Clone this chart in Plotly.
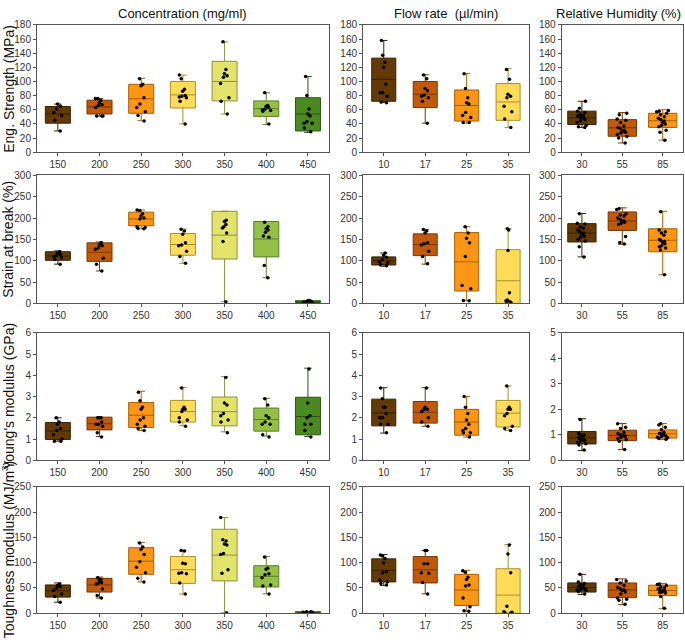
import plotly.graph_objects as go

# categories per column
conc = ["150", "200", "250", "300", "350", "400", "450"]
flow = ["10", "17", "25", "35"]
hum = ["30", "55", "85"]

conc_colors = ["#633A05", "#C0590A", "#FD9515", "#FEDC5A", "#E1E36A", "#95C048", "#4A8A21"]
conc_lines = ["#3A2000", "#7A3600", "#A85E00", "#A8902A", "#8E9040", "#5E7E2A", "#2C5412"]

# ---- Eng. Strength (MPa) ----
str_conc_pts = [
    [68, 65, 61, 56, 52, 45, 30],
    [76, 76, 73, 70, 67, 66, 63, 51, 51, 51],
    [104, 96, 94, 77, 68, 63, 57, 52, 44],
    [109, 104, 89, 86, 80, 79, 78, 77, 72, 40],
    [156, 117, 111, 108, 106, 97, 77, 72, 54],
    [84, 66, 65, 63, 61, 60, 59, 58, 40],
    [107, 80, 61, 54, 51, 43, 41, 41, 34, 29],
]
str_conc_q1 = [41, 54, 55, 62.5, 72.5, 50.5, 30]
str_conc_med = [54, 64, 75.5, 81, 100, 61.5, 54]
str_conc_q3 = [64.5, 73.5, 96, 100, 128.5, 72.5, 77]
str_conc_lo = [30, 51, 44.5, 40, 54, 39, 28]
str_conc_hi = [68, 76, 104.5, 109, 156, 84, 107]

str_flow_pts = [
    [158, 137, 127, 120, 96, 84, 84, 79, 71, 70],
    [109, 104, 90, 87, 81, 79, 77, 72, 41],
    [111, 90, 77, 70, 68, 56, 52, 49, 42, 42],
    [117, 103, 82, 79, 77, 65, 57, 47, 35],
]
str_flow_q1 = [72, 63, 44, 45]
str_flow_med = [103, 82, 66, 71]
str_flow_q3 = [133, 100, 88, 97]
str_flow_lo = [70, 41, 41, 35]
str_flow_hi = [158, 109.5, 111, 118]

str_hum_pts = [
    [72, 62, 58, 56, 54, 52, 51, 50, 49, 48, 46, 44, 42, 38, 36, 35],
    [55, 53, 47, 45, 42, 37, 35, 33, 31, 29, 28, 27, 25, 22, 20, 13],
    [59, 58, 57, 55, 53, 50, 48, 46, 44, 42, 40, 38, 36, 31, 28, 17],
]
str_hum_q1 = [39, 22.5, 35]
str_hum_med = [48.5, 34.5, 44.5]
str_hum_q3 = [58, 46, 55]
str_hum_lo = [35, 13, 17]
str_hum_hi = [72, 56, 60]

# ---- Strain at break (%) ----
strain_conc_pts = [
    [121, 118, 115, 113, 110, 107, 103, 92],
    [142, 137, 135, 130, 127, 106, 92, 76],
    [219, 218, 210, 205, 200, 198, 180, 178, 176, 175],
    [174, 170, 162, 142, 137, 135, 122, 110, 94],
    [195, 192, 185, 180, 177, 165, 145, 4],
    [190, 180, 175, 172, 167, 158, 155, 89, 60],
    [7, 6, 5, 4, 3, 3, 2, 2],
]
strain_conc_q1 = [101, 98.5, 182, 113, 104, 109, 2]
strain_conc_med = [111, 120, 198, 138, 160, 151, 4]
strain_conc_q3 = [121, 142, 214, 164, 216, 192, 6]
strain_conc_lo = [92, 76, 175, 94, 4, 60, 2]
strain_conc_hi = [123, 144, 219, 174.5, 216, 192, 7]

strain_flow_pts = [
    [118, 113, 108, 103, 98, 95, 91, 88],
    [173, 170, 165, 142, 140, 137, 122, 110, 93],
    [180, 165, 153, 142, 110, 42, 34, 7, 6],
    [175, 172, 124, 25, 8, 6, 4, 3, 2],
]
strain_flow_q1 = [90, 112, 29, 0]
strain_flow_med = [100, 138, 97.5, 53]
strain_flow_q3 = [109, 163, 166, 126]
strain_flow_lo = [87, 92, 6, 0]
strain_flow_hi = [118, 173, 180, 175]

strain_hum_pts = [
    [210, 188, 186, 180, 176, 172, 168, 165, 162, 158, 155, 150, 146, 133, 109],
    [222, 220, 210, 207, 205, 200, 197, 194, 192, 190, 188, 185, 157, 143, 139],
    [215, 172, 168, 165, 160, 150, 148, 145, 143, 140, 135, 133, 130, 125, 67],
]
strain_hum_q1 = [144, 171, 121]
strain_hum_med = [165, 193, 148]
strain_hum_q3 = [187, 214.5, 175]
strain_hum_lo = [109, 138.5, 67]
strain_hum_hi = [211, 224, 216]

# ---- Young's modulus (GPa) ----
ym_conc_pts = [
    [2.0, 1.8, 1.7, 1.5, 1.4, 1.2, 1.0, 0.9, 0.9],
    [2.0, 2.0, 2.0, 1.8, 1.7, 1.7, 1.6, 1.3, 1.1],
    [3.2, 2.8, 2.5, 2.4, 2.0, 1.9, 1.7, 1.6, 1.5, 1.4],
    [3.4, 2.5, 2.4, 2.4, 2.3, 2.0, 1.9, 1.8, 1.6],
    [3.9, 2.7, 2.6, 2.2, 2.1, 1.9, 1.8, 1.3],
    [2.9, 2.6, 2.1, 2.0, 1.8, 1.7, 1.7, 1.2, 1.1],
    [4.3, 2.7, 2.1, 2.0, 1.7, 1.7, 1.4, 1.1],
]
ym_conc_q1 = [0.98, 1.43, 1.54, 1.8, 1.62, 1.37, 1.2]
ym_conc_med = [1.38, 1.72, 2.12, 2.3, 2.29, 1.92, 2.06]
ym_conc_q3 = [1.78, 2.03, 2.72, 2.82, 2.98, 2.46, 2.97]
ym_conc_lo = [0.9, 1.12, 1.4, 1.63, 1.34, 1.14, 1.12]
ym_conc_hi = [2.0, 2.0, 3.25, 3.43, 3.94, 2.92, 4.34]

ym_flow_pts = [
    [3.4, 2.9, 2.5, 2.5, 2.2, 2.0, 2.0, 1.7, 1.7, 1.3],
    [3.4, 2.5, 2.4, 2.4, 2.3, 2.0, 1.8, 1.6],
    [3.0, 2.5, 2.2, 1.9, 1.7, 1.5, 1.4, 1.3, 1.3, 1.1],
    [3.5, 2.5, 2.4, 2.4, 2.2, 2.1, 1.6, 1.5, 1.4],
]
ym_flow_q1 = [1.62, 1.75, 1.18, 1.57]
ym_flow_med = [2.23, 2.26, 1.8, 2.22]
ym_flow_q3 = [2.88, 2.77, 2.4, 2.82]
ym_flow_lo = [1.28, 1.6, 1.09, 1.4]
ym_flow_hi = [3.42, 3.42, 3.0, 3.5]

ym_hum_pts = [
    [1.6, 1.05, 1.0, 1.0, 0.95, 0.9, 0.85, 0.8, 0.8, 0.78, 0.75, 0.7, 0.65, 0.6, 0.4],
    [1.43, 1.3, 1.25, 1.1, 1.05, 1.0, 0.98, 0.95, 0.93, 0.9, 0.85, 0.8, 0.75, 0.42],
    [1.43, 1.38, 1.3, 1.2, 1.1, 1.05, 1.03, 1.0, 0.98, 0.95, 0.92, 0.9, 0.88, 0.85, 0.82],
]
ym_hum_q1 = [0.64, 0.77, 0.87]
ym_hum_med = [0.88, 0.97, 1.04]
ym_hum_q3 = [1.13, 1.18, 1.19]
ym_hum_lo = [0.38, 0.42, 0.81]
ym_hum_hi = [1.63, 1.44, 1.44]

# ---- Toughness modulus (MJ/m3) ----
tm_conc_pts = [
    [58, 55, 53, 50, 45, 38, 33, 22],
    [70, 67, 65, 61, 60, 58, 48, 35, 30],
    [139, 131, 126, 116, 102, 91, 80, 69, 62],
    [124, 123, 99, 98, 80, 79, 78, 60, 38],
    [189, 145, 143, 137, 135, 118, 116, 86, 79, 1],
    [111, 89, 87, 78, 76, 70, 56, 54, 38],
    [3, 3, 2, 2, 1, 1],
]
tm_conc_q1 = [32, 42, 77, 59, 64, 52, 0.5]
tm_conc_med = [44.5, 56, 103, 86, 115, 73, 2]
tm_conc_q3 = [56, 69, 129.5, 112, 166, 94, 3]
tm_conc_lo = [22, 30, 62, 38, 1, 38.5, 0]
tm_conc_hi = [60, 71.5, 140, 124, 189, 112, 3.5]

tm_flow_pts = [
    [115, 113, 108, 100, 82, 80, 66, 62, 59, 56],
    [124, 124, 98, 98, 80, 79, 61, 38],
    [84, 81, 71, 67, 56, 54, 30, 13, 5, 4],
    [135, 117, 80, 14, 3, 2, 1, 1],
]
tm_flow_q1 = [62, 60, 15.5, 0]
tm_flow_med = [85, 86, 46, 36]
tm_flow_q3 = [107.5, 112, 77, 88]
tm_flow_lo = [55, 38.5, 4, 0]
tm_flow_hi = [116, 124, 85, 136]

tm_hum_pts = [
    [77, 62, 59, 57, 55, 53, 52, 50, 49, 48, 47, 46, 45, 43, 38],
    [67, 64, 60, 55, 51, 48, 46, 45, 42, 38, 30, 28, 26, 18],
    [58, 57, 55, 52, 50, 48, 46, 45, 44, 43, 42, 41, 40, 33, 10],
]
tm_hum_q1 = [42, 31, 35]
tm_hum_med = [51, 46, 45]
tm_hum_q3 = [60, 60, 55.5]
tm_hum_lo = [37, 17, 9]
tm_hum_hi = [77, 68, 59]

rows = [
    [(str_conc_pts, str_conc_q1, str_conc_med, str_conc_q3, str_conc_lo, str_conc_hi),
     (str_flow_pts, str_flow_q1, str_flow_med, str_flow_q3, str_flow_lo, str_flow_hi),
     (str_hum_pts, str_hum_q1, str_hum_med, str_hum_q3, str_hum_lo, str_hum_hi)],
    [(strain_conc_pts, strain_conc_q1, strain_conc_med, strain_conc_q3, strain_conc_lo, strain_conc_hi),
     (strain_flow_pts, strain_flow_q1, strain_flow_med, strain_flow_q3, strain_flow_lo, strain_flow_hi),
     (strain_hum_pts, strain_hum_q1, strain_hum_med, strain_hum_q3, strain_hum_lo, strain_hum_hi)],
    [(ym_conc_pts, ym_conc_q1, ym_conc_med, ym_conc_q3, ym_conc_lo, ym_conc_hi),
     (ym_flow_pts, ym_flow_q1, ym_flow_med, ym_flow_q3, ym_flow_lo, ym_flow_hi),
     (ym_hum_pts, ym_hum_q1, ym_hum_med, ym_hum_q3, ym_hum_lo, ym_hum_hi)],
    [(tm_conc_pts, tm_conc_q1, tm_conc_med, tm_conc_q3, tm_conc_lo, tm_conc_hi),
     (tm_flow_pts, tm_flow_q1, tm_flow_med, tm_flow_q3, tm_flow_lo, tm_flow_hi),
     (tm_hum_pts, tm_hum_q1, tm_hum_med, tm_hum_q3, tm_hum_lo, tm_hum_hi)],
]
col_cats = [conc, flow, hum]
col_titles = ["Concentration (mg/ml)", "Flow rate  (µl/min)", "Relative Humidity (%)"]
row_titles = ["Eng. Strength (MPa)", "Strain at break (%)", "Young's modulus (GPa)",
              "Toughness modulus (MJ/m<sup>3</sup>)"]
row_ranges = [[0, 180], [0, 300], [0, 6], [0, 250]]
row_dticks = [20, 50, 1, 50]
hum_range_ym = [0, 5]

# layout domains (paper fractions)
col_dom = [[0.054, 0.480], [0.530, 0.772], [0.820, 0.997]]
row_dom = [[0.768, 0.970], [0.528, 0.731], [0.279, 0.481], [0.036, 0.237]]
col_widths = [0.6, 0.58, 0.7]
col_title_x = [0.267, 0.651, 0.903]

fig = go.Figure()
layout = {}
n = 0
for r in range(4):
    for c in range(3):
        n += 1
        xa = "x" if n == 1 else "x%d" % n
        ya = "y" if n == 1 else "y%d" % n
        pts, q1, med, q3, lo, hi = rows[r][c]
        cats = col_cats[c]
        for i, cat in enumerate(cats):
            fig.add_trace(go.Box(
                x=[cat], q1=[q1[i]], median=[med[i]], q3=[q3[i]],
                lowerfence=[lo[i]], upperfence=[hi[i]],
                fillcolor=conc_colors[i], line=dict(color=conc_lines[i], width=1),
                width=col_widths[c], whiskerwidth=0.3, boxpoints=False,
                xaxis=xa, yaxis=ya, showlegend=False,
            ))
            fig.add_trace(go.Box(
                x=[cat] * len(pts[i]), y=pts[i],
                boxpoints="all", jitter=0.45, pointpos=0,
                fillcolor="rgba(0,0,0,0)", line=dict(color="rgba(0,0,0,0)", width=0),
                marker=dict(color="black", size=3.5),
                width=col_widths[c], xaxis=xa, yaxis=ya, showlegend=False,
            ))
        yr = row_ranges[r]
        dt = row_dticks[r]
        if r == 2 and c == 2:
            yr = hum_range_ym
        layout["xaxis" if n == 1 else "xaxis%d" % n] = dict(
            domain=col_dom[c], anchor=ya, type="category",
            categoryorder="array", categoryarray=cats,
            range=[-0.5, len(cats) - 0.5],
            showline=True, linecolor="#555", linewidth=1, mirror=True,
            ticks="outside", ticklen=3, tickcolor="#555",
            tickfont=dict(size=10, color="#333"), showgrid=False,
        )
        layout["yaxis" if n == 1 else "yaxis%d" % n] = dict(
            domain=row_dom[r], anchor=xa, range=yr, dtick=dt,
            showline=True, linecolor="#555", linewidth=1, mirror=True,
            ticks="outside", ticklen=3, tickcolor="#555",
            tickfont=dict(size=10, color="#333"), showgrid=False, zeroline=False,
        )

annotations = []
for c in range(3):
    annotations.append(dict(
        text=col_titles[c], x=col_title_x[c], y=0.988, xref="paper", yref="paper",
        showarrow=False, font=dict(size=13, color="#111"), xanchor="center", yanchor="middle",
    ))
for r in range(4):
    annotations.append(dict(
        text=row_titles[r], x=0.012, y=sum(row_dom[r]) / 2, xref="paper", yref="paper",
        showarrow=False, textangle=-90, font=dict(size=14, color="#111"),
        xanchor="center", yanchor="middle",
    ))

fig.update_layout(
    width=685, height=642,
    margin=dict(l=0, r=0, t=0, b=0),
    plot_bgcolor="white", paper_bgcolor="white",
    font=dict(family="Liberation Sans, Arial, sans-serif"),
    boxmode="overlay", showlegend=False,
    annotations=annotations,
    **layout,
)

# drop the page's default body margin so the figure sits at the window corner
fig.write_html("out.html", config={"displayModeBar": False},
               post_script="document.body.style.margin = '0';")
